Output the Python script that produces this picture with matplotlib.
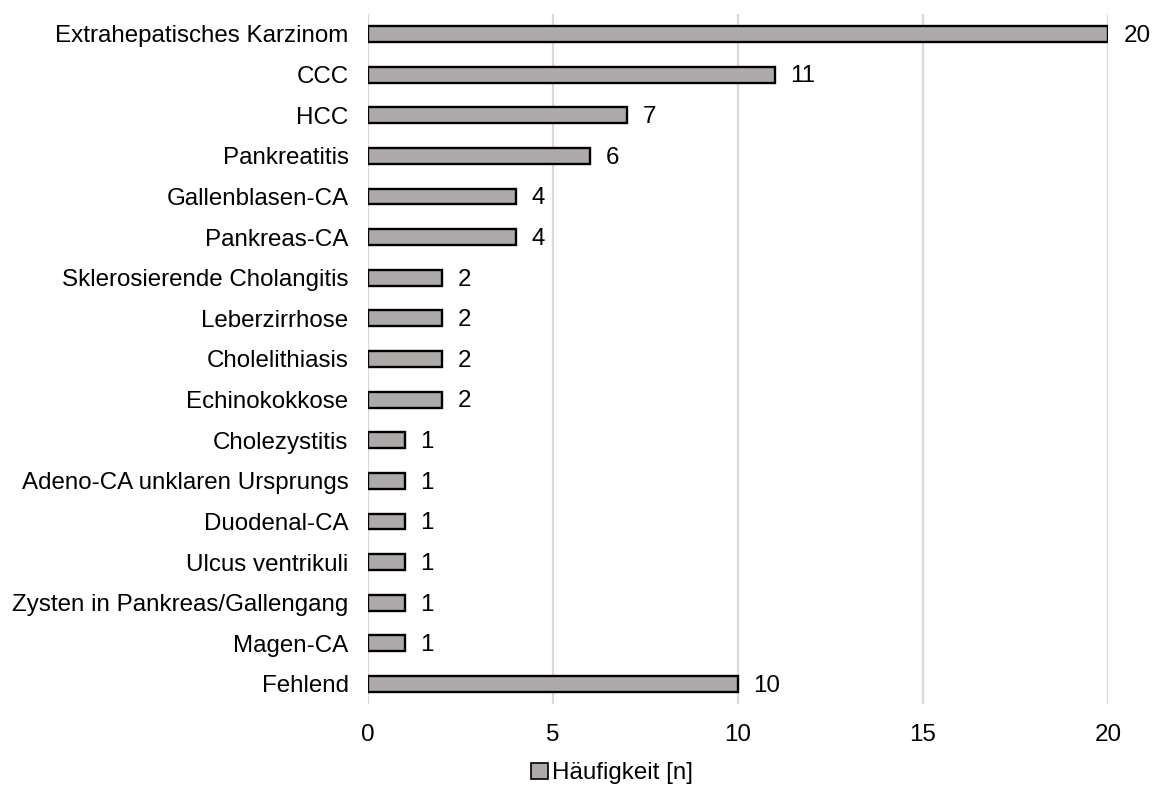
import matplotlib.pyplot as plt
from matplotlib.patches import Patch

plt.rcParams['font.family'] = ['Liberation Sans', 'DejaVu Sans']

categories = ['Extrahepatisches Karzinom', 'CCC', 'HCC', 'Pankreatitis',
              'Gallenblasen-CA', 'Pankreas-CA', 'Sklerosierende Cholangitis',
              'Leberzirrhose', 'Cholelithiasis', 'Echinokokkose', 'Cholezystitis',
              'Adeno-CA unklaren Ursprungs', 'Duodenal-CA', 'Ulcus ventrikuli',
              'Zysten in Pankreas/Gallengang', 'Magen-CA', 'Fehlend']
counts = [20, 11, 7, 6, 4, 4, 2, 2, 2, 2, 1, 1, 1, 1, 1, 1, 10]
xticks = [0, 5, 10, 15, 20]

bar_color = '#AEAAAA'
grid_color = '#D9D9D9'
fs = 17.4

fig = plt.figure(figsize=(11.55, 7.86), dpi=100)
ax = fig.add_axes([0.3186, 0.104, 0.6407, 0.8786])

pos = list(range(len(categories)))
ax.barh(pos, counts, height=0.39, color=bar_color, edgecolor='black',
        linewidth=1.7, zorder=3)

for y, v in zip(pos, counts):
    ax.annotate(str(v), (v, y), xytext=(11, 0.5), textcoords='offset points',
                va='center_baseline', ha='left', fontsize=fs, annotation_clip=False)

ax.set_xlim(0, 20)
ax.set_ylim(len(categories) - 0.5, -0.5)
ax.set_yticks(pos)
ax.set_yticklabels(categories, fontsize=fs)
ax.set_xticks(xticks)
ax.set_xticklabels([str(t) for t in xticks], fontsize=fs)
ax.tick_params(axis='both', length=0)
ax.tick_params(axis='y', pad=14)
ax.tick_params(axis='x', pad=14)

ax.xaxis.grid(True, color=grid_color, linewidth=1.6, zorder=0)
for s in ax.spines.values():
    s.set_visible(False)

handle = Patch(facecolor=bar_color, edgecolor='black', linewidth=1.2)
fig.legend([handle], ['Häufigkeit [n]'], loc='center', bbox_to_anchor=(0.53, 0.016),
           frameon=False, fontsize=fs, handlelength=0.7, handleheight=0.7,
           handletextpad=0.15, borderpad=0.1)

fig.savefig('out.png', dpi=100)
